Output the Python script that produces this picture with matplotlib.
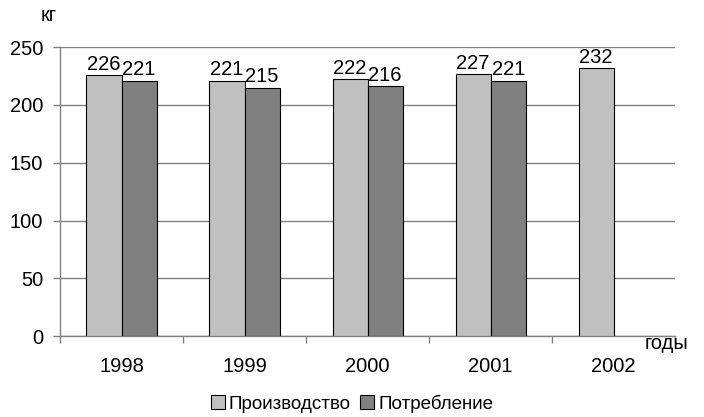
import numpy as np
import matplotlib.pyplot as plt
from matplotlib.patches import Patch

plt.rcParams["font.family"] = ["Liberation Sans", "DejaVu Sans"]

# ── Data ───────────────────────────────────────────────────────────────────
years       = ["1998", "1999", "2000", "2001", "2002"]
production  = [226, 221, 222, 227, 232]
consumption = [221, 215, 216, 221, np.nan]   # no figure for 2002 yet
y_ticks     = [0, 50, 100, 150, 200, 250]

C_PROD = "#c0c0c0"
C_CONS = "#808080"
GRID   = "#808080"
FS     = 14.5

fig = plt.figure(figsize=(7.04, 4.17), dpi=100)
ax = fig.add_axes([0.0852, 0.194, 0.874, 0.693])

x = np.arange(len(years))
w = 0.285
ax.bar(x - w / 2, production, w, color=C_PROD, edgecolor="black", linewidth=0.8, zorder=3)
ax.bar(x + w / 2, consumption, w, color=C_CONS, edgecolor="black", linewidth=0.8, zorder=3)

for xi, v in zip(x, production):
    ax.text(xi - w / 2, v + 1, f"{v}", ha="center", va="bottom", fontsize=FS)
for xi, v in zip(x, consumption):
    if not np.isnan(v):
        ax.text(xi + w / 2, v + 1, f"{int(v)}", ha="center", va="bottom", fontsize=FS)

ax.set_xlim(-0.5, len(years) - 0.5)
ax.set_ylim(0, 250)
ax.set_yticks(y_ticks)
ax.yaxis.grid(True, color=GRID, linewidth=1.0, zorder=0)
ax.set_axisbelow(True)

# category labels centred, tick marks on category boundaries
ax.set_xticks(x)
ax.set_xticklabels(years, fontsize=FS)
ax.tick_params(axis="x", length=0, pad=15)
ax.set_xticks(np.arange(len(years) + 1) - 0.5, minor=True)
ax.tick_params(axis="x", which="minor", length=5, direction="out", color=GRID, width=1.0)
ax.tick_params(axis="y", length=5, direction="out", color=GRID, width=1.0, labelsize=FS, pad=7)

for s in ["top", "right"]:
    ax.spines[s].set_visible(False)
for s in ["left", "bottom"]:
    ax.spines[s].set_color(GRID)
    ax.spines[s].set_linewidth(1.0)

fig.text(0.057, 0.962, "кг", fontsize=FS, ha="left", va="center")
fig.text(0.916, 0.177, "годы", fontsize=FS, ha="left", va="center")

handles = [Patch(facecolor=C_PROD, edgecolor="black", linewidth=0.8),
           Patch(facecolor=C_CONS, edgecolor="black", linewidth=0.8)]
fig.legend(handles, ["Производство", "Потребление"], loc="lower center",
           bbox_to_anchor=(0.5, -0.03), ncol=2, frameon=False, fontsize=13.5,
           handlelength=0.75, handleheight=0.75, handletextpad=0.2, columnspacing=0.5)

fig.savefig("out.png", dpi=100)
